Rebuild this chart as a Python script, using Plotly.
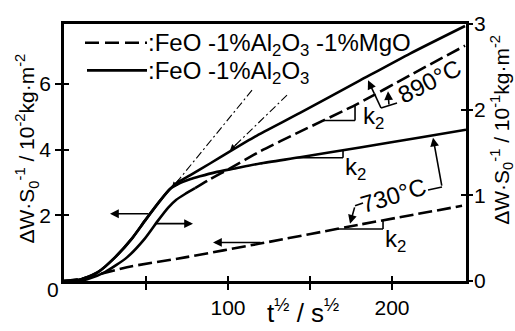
import plotly.graph_objects as go
import numpy as np

# ---------------- data (x: t^1/2 / s^1/2 ; y: ΔW·S0^-1 / 10^-2 kg·m^-2) ----------------
# FeO-1%Al2O3 (solid), 890 °C
x_al_890 = [0, 8.5, 12.8, 20.7, 31.1, 41.5, 49.4, 58.5, 64.6, 67.7, 76.8, 89.0, 101.2, 116.5, 143.9, 180.5, 211.0, 244.5]
y_al_890 = [0, 0.03, 0.09, 0.27, 0.72, 1.30, 1.84, 2.44, 2.80, 2.95, 3.22, 3.58, 3.95, 4.40, 5.12, 6.11, 6.93, 7.77]
# FeO-1%Al2O3 (solid), 730 °C
x_al_730 = [0, 8.5, 12.8, 20.7, 31.1, 41.5, 49.4, 58.5, 64.6, 70.7, 76.8, 82.9, 92.1, 104.3, 119.5, 143.9, 180.5, 217.1, 245.1]
y_al_730 = [0, 0.03, 0.09, 0.27, 0.72, 1.30, 1.84, 2.44, 2.80, 2.98, 3.10, 3.19, 3.31, 3.43, 3.58, 3.77, 4.07, 4.37, 4.61]
# FeO-1%Al2O3-1%MgO (dashed), 890 °C
x_mg_890 = [0, 8.5, 14.6, 25.0, 38.4, 49.4, 57.3, 63.4, 68.3, 73.8, 79.9, 89.0, 101.2, 119.5, 143.9, 178.7, 211.0, 244.5]
y_mg_890 = [0, 0, 0.06, 0.27, 0.72, 1.30, 1.84, 2.23, 2.47, 2.65, 2.83, 3.10, 3.43, 3.95, 4.55, 5.39, 6.27, 7.17]
# FeO-1%Al2O3-1%MgO (dashed), 730 °C
x_mg_730 = [0, 9.8, 22.0, 38.4, 73.8, 119.5, 180.5, 242.7]
y_mg_730 = [0, 0.06, 0.21, 0.42, 0.72, 1.14, 1.72, 2.29]

x_ticks = [50, 100, 150, 200]
x_ticktext = ["", "100", "", "200"]
y_left_ticks = [2, 4, 6]
y_right_ticks = [0, 1, 2, 3]

X_RANGE = [0, 245.1]
YL_RANGE = [0, 7.83]
YR_RANGE = [0, 3]

# pixel helpers for decorations (plot area: x 64..466, y 21..281)
def X(px):
    return (px - 64) / 1.64

def Y(py):
    return (281 - py) / 33.2

def XP(px):
    return (px - 64) / 402.0

def YP(py):
    return (281 - py) / 260.0

FONT = "Liberation Sans, Arial, sans-serif"
LW = 2.6
DASH = "14px,5px"

fig = go.Figure()

def add_line(xs, ys, dash="solid", width=LW):
    fig.add_trace(go.Scatter(x=xs, y=ys, mode="lines", line=dict(color="black", width=width, dash=dash,
                                                                  shape="spline", smoothing=0.6),
                             hoverinfo="skip", showlegend=False))

add_line(x_al_890, y_al_890)
add_line(x_al_730, y_al_730)
split = 10
add_line(x_mg_890[:split + 1], y_mg_890[:split + 1])
add_line(x_mg_890[split:], y_mg_890[split:], dash=DASH)
add_line(x_mg_730, y_mg_730, dash=DASH)

# invisible traces to activate helper axes (inner tick marks)
fig.add_trace(go.Scatter(x=[None], y=[None], xaxis="x2", yaxis="y3", showlegend=False, hoverinfo="skip"))
fig.add_trace(go.Scatter(x=[None], y=[None], xaxis="x", yaxis="y2", showlegend=False, hoverinfo="skip"))
fig.add_trace(go.Scatter(x=[None], y=[None], xaxis="x", yaxis="y4", showlegend=False, hoverinfo="skip"))

shapes = []
annotations = []

def seg(p0, p1, width=1.6, dash="solid"):
    shapes.append(dict(type="line", xref="x", yref="y", x0=X(p0[0]), y0=Y(p0[1]), x1=X(p1[0]), y1=Y(p1[1]),
                       line=dict(color="black", width=width, dash=dash)))

def arrow(head, tail, width=1.6):
    annotations.append(dict(x=X(head[0]), y=Y(head[1]), ax=X(tail[0]), ay=Y(tail[1]),
                            xref="x", yref="y", axref="x", ayref="y", text="", showarrow=True,
                            arrowhead=2, arrowsize=1.1, arrowwidth=width, arrowcolor="black"))

def text(px, py, s, size=22, angle=0, xanchor="center"):
    annotations.append(dict(x=XP(px), y=YP(py), xref="paper", yref="paper", text=s, showarrow=False,
                            textangle=angle, xanchor=xanchor, yanchor="middle",
                            font=dict(family=FONT, size=size, color="black")))

# slope triangles (k2) built from the curves
def triangle(xs_, ys_, xa, xb):
    ya = float(np.interp(xa, xs_, ys_))
    yb = float(np.interp(xb, xs_, ys_))
    shapes.append(dict(type="line", xref="x", yref="y", x0=xa, y0=ya, x1=xb, y1=ya,
                       line=dict(color="black", width=1.6)))
    shapes.append(dict(type="line", xref="x", yref="y", x0=xb, y0=ya, x1=xb, y1=yb,
                       line=dict(color="black", width=1.6)))

triangle(x_mg_890, y_mg_890, X(323), X(355))
triangle(x_al_730, y_al_730, X(297), X(343))
triangle(x_mg_730, y_mg_730, X(337), X(383))
text(373, 116, "k<sub>2</sub>", size=24)
text(355, 167, "k<sub>2</sub>", size=24)
text(395, 240, "k<sub>2</sub>", size=24)

# dash-dot tangent lines with arrowheads
seg((252, 88), (176, 182), width=1.1, dash="8px,3px,2px,3px")
arrow((172, 187), (180, 177), width=1.1)
seg((287, 93), (235, 144), width=1.1, dash="8px,3px,2px,3px")
arrow((230, 149), (238, 141), width=1.1)

# horizontal arrows
arrow((110, 213), (150, 213))
arrow((193, 223), (155, 223))
arrow((213, 242), (262, 242))

# 890 °C label + bracket arrows
text(429, 79, "890°C", size=24, angle=-27)
seg((375, 93), (381, 106))
seg((381, 106), (397, 101))
arrow((368, 78), (375, 93))
arrow((388, 89), (389, 104))

# 730 °C label + bracket arrows
text(393, 195, "730°C", size=24, angle=-17)
seg((355, 205), (363, 202))
arrow((350, 223), (355, 205))
seg((428, 189), (442, 186))
arrow((433, 136), (442, 186))

# legend
seg((85, 40), (147, 40), width=LW, dash="14px,6px")
seg((87, 68), (147, 68), width=LW)
text(146, 42, ":FeO -1%Al<sub>2</sub>O<sub>3</sub> -1%MgO", size=24, xanchor="left")
text(146, 70, ":FeO -1%Al<sub>2</sub>O<sub>3</sub>", size=24, xanchor="left")

# origin label, axis titles
text(53, 290, "0", size=21)
text(303, 312, "t<sup>½</sup> / s<sup>½</sup>", size=26)
text(27, 147, "ΔW·S<sub>0</sub><sup>-1</sup> / 10<sup>-2</sup>kg·m<sup>-2</sup>", size=21, angle=-90)
text(502, 128, "ΔW·S<sub>0</sub><sup>-1</sup> / 10<sup>-1</sup>kg·m<sup>-2</sup>", size=21, angle=-90)

axis_common = dict(showgrid=False, zeroline=False, fixedrange=True, color="black",
                   tickfont=dict(family=FONT, size=21, color="black"))

fig.update_layout(
    width=515, height=331,
    margin=dict(l=64, r=49, t=21, b=50),
    plot_bgcolor="white", paper_bgcolor="white",
    showlegend=False,
    font=dict(family=FONT, color="black"),
    xaxis=dict(range=X_RANGE, showline=True, linewidth=LW, linecolor="black", mirror=True,
               ticks="outside", ticklen=6, tickwidth=2, tickvals=x_ticks, ticktext=x_ticktext,
               **axis_common),
    xaxis2=dict(range=X_RANGE, overlaying="x", side="bottom", anchor="y", showline=False,
                ticks="inside", ticklen=5, tickwidth=2, tickvals=x_ticks, showticklabels=False,
                **axis_common),
    yaxis=dict(range=YL_RANGE, showline=True, linewidth=LW, linecolor="black", mirror=True,
               ticks="outside", ticklen=6, tickwidth=2, tickvals=y_left_ticks, **axis_common),
    yaxis3=dict(range=YL_RANGE, overlaying="y", side="left", anchor="x", showline=False,
                ticks="inside", ticklen=5, tickwidth=2, tickvals=y_left_ticks, showticklabels=False,
                **axis_common),
    yaxis2=dict(range=YR_RANGE, overlaying="y", side="right", anchor="x", showline=True,
                linewidth=LW, linecolor="black", ticks="outside", ticklen=4, tickwidth=2,
                tickvals=y_right_ticks, ticklabelstandoff=-3, **axis_common),
    yaxis4=dict(range=YR_RANGE, overlaying="y", side="right", anchor="x", showline=False,
                ticks="inside", ticklen=5, tickwidth=2, tickvals=[1, 2], showticklabels=False,
                **axis_common),
    shapes=shapes,
    annotations=annotations,
)

fig.write_html("out.html", post_script="document.body.style.margin='0px';",
               config={"displayModeBar": False})
